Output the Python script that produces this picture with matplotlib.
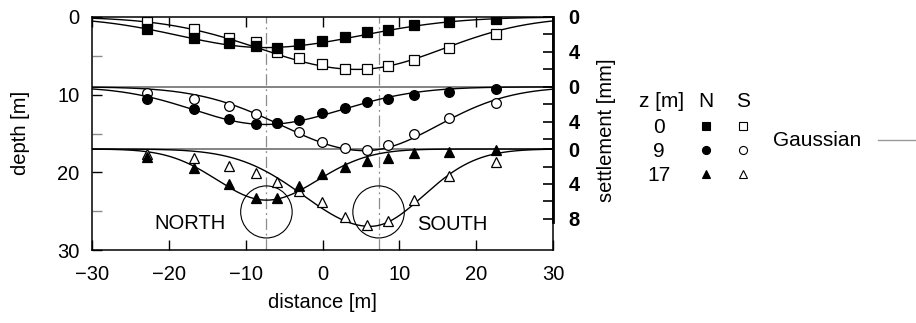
import numpy as np
import matplotlib
matplotlib.use("Agg")
import matplotlib.pyplot as plt
from matplotlib.patches import Circle

plt.rcParams["font.family"] = ["Liberation Sans", "DejaVu Sans"]
plt.rcParams["axes.unicode_minus"] = True

# ---- survey data -------------------------------------------------------
distance = [-22.9, -16.7, -12.2, -8.7, -5.9, -3.0, -0.1, 2.9, 5.8, 8.5, 11.9, 16.5, 22.6]
depths = [0, 9, 17]  # z [m] of each settlement profile

# settlement [mm], north tunnel (filled) and south tunnel (open)
north_z0 = [1.40, 2.45, 3.00, 3.30, 3.50, 3.10, 2.70, 2.30, 1.75, 1.45, 0.90, 0.60, 0.25]
south_z0 = [0.55, 1.40, 2.35, 2.85, 3.95, 4.70, 5.40, 5.90, 5.95, 5.60, 4.90, 3.50, 1.95]
north_z9 = [1.38, 2.56, 3.67, 4.24, 4.10, 3.79, 3.02, 2.38, 1.76, 1.35, 0.93, 0.62, 0.24]
south_z9 = [0.66, 1.38, 2.18, 3.10, 4.10, 5.19, 6.26, 7.05, 7.20, 6.65, 5.35, 3.60, 1.88]
north_z17 = [0.94, 2.20, 4.00, 5.57, 5.57, 4.23, 2.88, 2.00, 1.42, 1.05, 0.50, 0.35, 0.10]
south_z17 = [0.56, 1.05, 1.99, 2.80, 3.73, 4.76, 6.09, 7.80, 8.75, 8.18, 5.78, 3.10, 1.45]

# Gaussian trough fits: peak [mm], centre [m], width left / right [m]
fit_north_peak = [3.5, 4.3, 5.85]
fit_north_centre = [-7.5, -7.5, -7.3]
fit_north_wl = [11.2, 9.3, 6.4]
fit_north_wr = [12.5, 10.0, 6.7]
fit_south_peak = [6.0, 7.3, 8.85]
fit_south_centre = [4.5, 5.5, 6.2]
fit_south_wl = [12.6, 10.8, 8.6]
fit_south_wr = [11.2, 9.5, 6.9]

tunnel_x = [-7.3, 7.3]
tunnel_depth = 25.1
tunnel_radius = 3.35

MM_TO_M = 9.0 / 8.0  # vertical scale of the settlement profiles

north_sets = [north_z0, north_z9, north_z17]
south_sets = [south_z0, south_z9, south_z17]
north_markers = ["s", "o", "^"]
south_markers = ["s", "o", "^"]

W, H = 916, 323
fig = plt.figure(figsize=(W / 100, H / 100), dpi=100)


def fx(px):
    return px / W


def fy(py):
    return 1 - py / H


ax = fig.add_axes([fx(92), fy(250), (553 - 92) / W, (250 - 17) / H])
ax.set_xlim(-30, 30)
ax.set_ylim(30, 0)

FS = 14.5


def gauss(x, peak, centre, wl, wr):
    w = np.where(x < centre, wl, wr)
    return peak * np.exp(-(x - centre) ** 2 / (2 * w ** 2))


xx = np.linspace(-30, 30, 601)

# reference (zero-settlement) lines
for z in depths[1:]:
    ax.axhline(z, color="#7a7a7a", lw=1.3, zorder=1)

# tunnel centre lines
for xc in tunnel_x:
    ax.axvline(xc, color="#8c8c8c", lw=0.9, ls=(0, (9, 3, 1.5, 3)), zorder=1)
    ax.add_patch(Circle((xc, tunnel_depth), tunnel_radius, fill=False,
                        ec="black", lw=0.8, zorder=2))

for k, z in enumerate(depths):
    yn = gauss(xx, fit_north_peak[k], fit_north_centre[k], fit_north_wl[k], fit_north_wr[k])
    ys = gauss(xx, fit_south_peak[k], fit_south_centre[k], fit_south_wl[k], fit_south_wr[k])
    ax.plot(xx, z + yn * MM_TO_M, color="black", lw=1.0, zorder=3)
    ax.plot(xx, z + ys * MM_TO_M, color="black", lw=1.0, zorder=3)

    ms = 7.5 if north_markers[k] == "^" else 7
    ax.plot(distance, z + np.array(south_sets[k]) * MM_TO_M, ls="none",
            marker=south_markers[k], ms=ms, mfc="white", mec="black", mew=0.9, zorder=4)
    ax.plot(distance, z + np.array(north_sets[k]) * MM_TO_M, ls="none",
            marker=north_markers[k], ms=ms, mfc="black", mec="black", mew=0.9, zorder=5)

ax.text(-21.9, 27.3, "NORTH", fontsize=FS, ha="left", va="baseline")
ax.text(12.3, 27.4, "SOUTH", fontsize=FS, ha="left", va="baseline")

# axes styling
for sp in ax.spines.values():
    sp.set_linewidth(1.1)

ax.set_xticks([-30, -20, -10, 0, 10, 20, 30])
ax.set_xticklabels(["\u221230", "\u221220", "\u221210", "0", "10", "20", "30"])
ax.set_yticks([0, 10, 20, 30])
ax.set_yticks([5, 15, 25], minor=True)
ax.tick_params(axis="x", direction="in", top=True, length=7, width=1, pad=11, labelsize=FS)
ax.tick_params(axis="y", which="major", direction="in", length=7, width=1, pad=9, labelsize=FS)
ax.tick_params(axis="y", which="minor", direction="in", length=7, width=1, color="#8c8c8c")
ax.set_xlabel("distance [m]", fontsize=FS, labelpad=6)

# settlement axis on the right
ax2 = ax.twinx()
ax2.set_ylim(30, 0)
for name in ["left", "top", "bottom"]:
    ax2.spines[name].set_visible(False)
ax2.spines["right"].set_bounds(0, 26.35)
ax2.spines["right"].set_linewidth(2.0)
major_pos = [0, 4 * MM_TO_M, 9, 9 + 4 * MM_TO_M, 17, 17 + 4 * MM_TO_M, 17 + 8 * MM_TO_M]
major_lab = ["0", "4", "0", "4", "0", "4", "8"]
minor_pos = [2 * MM_TO_M, 6 * MM_TO_M, 9 + 2 * MM_TO_M, 9 + 6 * MM_TO_M,
             17 + 2 * MM_TO_M, 17 + 6 * MM_TO_M]
ax2.set_yticks(major_pos)
ax2.set_yticklabels(major_lab, fontweight="bold")
ax2.set_yticks(minor_pos, minor=True)
ax2.tick_params(axis="y", which="both", direction="in", length=7, width=1.2, pad=11, labelsize=FS)

fig.text(fx(20), fy(133), "depth [m]", rotation=90, ha="center", va="center", fontsize=FS)
fig.text(fx(607), fy(130), "settlement [mm]", rotation=90, ha="center", va="center", fontsize=FS)

# key
LFS = 15
fig.text(fx(662), fy(107), "z [m]", ha="center", va="baseline", fontsize=LFS)
fig.text(fx(706), fy(107), "N", ha="center", va="baseline", fontsize=LFS)
fig.text(fx(743), fy(107), "S", ha="center", va="baseline", fontsize=LFS)
row_y = [126, 150, 174]
for k, z in enumerate(depths):
    fig.text(fx(659), fy(row_y[k] + 7), str(z), ha="center", va="baseline", fontsize=LFS)
    lm = 6.2 if north_markers[k] == "^" else 5.8
    fig.lines.append(plt.Line2D([fx(706)], [fy(row_y[k])], transform=fig.transFigure,
                                marker=north_markers[k], ms=lm, mfc="black", mec="black",
                                mew=0.8, ls="none"))
    fig.lines.append(plt.Line2D([fx(743)], [fy(row_y[k])], transform=fig.transFigure,
                                marker=south_markers[k], ms=lm, mfc="white", mec="black",
                                mew=0.8, ls="none"))
fig.text(fx(773), fy(146), "Gaussian", ha="left", va="baseline", fontsize=LFS)
fig.lines.append(plt.Line2D([fx(878), fx(916)], [fy(140), fy(140)], transform=fig.transFigure,
                            color="#999999", lw=1.0))

fig.savefig("out.png", dpi=100)
